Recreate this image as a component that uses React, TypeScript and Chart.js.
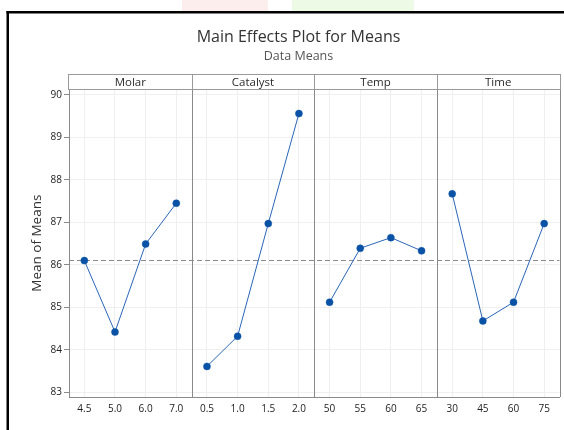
import React, { useEffect, useRef } from 'react';
import { Chart, registerables } from 'chart.js';

Chart.register(...registerables);

// ---- data ----
const factorNames = ['Molar', 'Catalyst', 'Temp', 'Time'];
const molarLevels = ['4.5', '5.0', '6.0', '7.0'];
const catalystLevels = ['0.5', '1.0', '1.5', '2.0'];
const tempLevels = ['50', '55', '60', '65'];
const timeLevels = ['30', '45', '60', '75'];
const molarMeans = [86.10, 84.42, 86.49, 87.45];
const catalystMeans = [83.61, 84.32, 86.97, 89.56];
const tempMeans = [85.12, 86.39, 86.64, 86.33];
const timeMeans = [87.67, 84.68, 85.12, 86.97];
const yTicks = [83, 84, 85, 86, 87, 88, 89, 90];
const yMin = 82.89;
const yMax = 90.13;

const levels = [molarLevels, catalystLevels, tempLevels, timeLevels];
const means = [molarMeans, catalystMeans, tempMeans, timeMeans];
const allMeans = ([] as number[]).concat(...means);
const grandMean = allMeans.reduce((a, b) => a + b, 0) / allMeans.length;

const FONT = '"Open Sans", "Noto Sans", "DejaVu Sans", sans-serif';

const panelsPlugin = {
  id: 'panels',
  beforeDraw(chart: any) {
    const ctx = chart.ctx;
    ctx.save();
    ctx.fillStyle = '#ffffff';
    ctx.fillRect(0, 0, chart.width, chart.height);
    // faint watermark blotches at top
    ctx.fillStyle = 'rgba(250, 205, 205, 0.35)';
    ctx.fillRect(182, 0, 86, 11);
    ctx.fillStyle = 'rgba(215, 245, 200, 0.45)';
    ctx.fillRect(292, 0, 122, 11);
    // black frame
    ctx.fillStyle = '#000000';
    ctx.fillRect(6.5, 11, chart.width, 2.5);
    ctx.fillRect(6.5, 11, 2.5, chart.height);
    ctx.restore();
  },
  beforeDatasetsDraw(chart: any) {
    const ctx = chart.ctx;
    const area = chart.chartArea;
    ctx.save();
    // panel dividers + outer border
    ctx.strokeStyle = '#8a8a8a';
    ctx.lineWidth = 1;
    ctx.beginPath();
    for (let i = 0; i < factorNames.length; i++) {
      const s = chart.scales['x' + i];
      const x = Math.round(s.right) + 0.5;
      ctx.moveTo(x, area.top);
      ctx.lineTo(x, area.bottom);
    }
    const ty = Math.round(area.top) + 0.5;
    ctx.moveTo(area.left, ty);
    ctx.lineTo(area.right, ty);
    ctx.stroke();
    // grand mean dashed line
    const y = chart.scales.y.getPixelForValue(grandMean);
    ctx.strokeStyle = '#8c8c8c';
    ctx.setLineDash([5, 3]);
    ctx.beginPath();
    ctx.moveTo(area.left, Math.round(y) + 0.5);
    ctx.lineTo(area.right, Math.round(y) + 0.5);
    ctx.stroke();
    ctx.restore();
  },
  afterDraw(chart: any) {
    const ctx = chart.ctx;
    const area = chart.chartArea;
    const top = 74.5;
    const bottom = Math.round(area.top) + 0.5;
    ctx.save();
    ctx.strokeStyle = '#9a9a9a';
    ctx.lineWidth = 1;
    ctx.font = `11.5px ${FONT}`;
    ctx.fillStyle = '#2b2b2b';
    ctx.textAlign = 'center';
    ctx.textBaseline = 'middle';
    for (let i = 0; i < factorNames.length; i++) {
      const s = chart.scales['x' + i];
      const l = i === 0 ? Math.round(s.left) - 0.5 : Math.round(s.left) + 0.5;
      const r = Math.round(s.right) + 0.5;
      ctx.strokeRect(l, top, r - l, bottom - top);
      ctx.fillText(factorNames[i], (s.left + s.right) / 2, (top + bottom) / 2 + 0.5);
    }
    ctx.restore();
  },
};

export default function App() {
  const canvasRef = useRef<HTMLCanvasElement | null>(null);

  useEffect(() => {
    if (!canvasRef.current) return;
    const xScales: any = {};
    levels.forEach((lv, i) => {
      xScales['x' + i] = {
        type: 'category',
        labels: lv,
        position: 'bottom',
        stack: 'panels',
        stackWeight: 1,
        offset: true,
        grid: { offset: false, color: '#efefef', drawTicks: false, lineWidth: 1 },
        border: { display: true, color: '#8a8a8a' },
        ticks: {
          color: '#222222',
          font: { family: FONT, size: 10 },
          padding: 6,
          maxRotation: 0,
          autoSkip: false,
        },
        afterFit: (s: any) => {
          s.height = 33;
          s.paddingLeft = 0;
          s.paddingRight = 0;
        },
      };
    });

    const chart = new Chart(canvasRef.current, {
      type: 'line',
      data: {
        datasets: means.map((m, i) => ({
          label: factorNames[i],
          data: m,
          xAxisID: 'x' + i,
          yAxisID: 'y',
          borderColor: '#2a66b8',
          borderWidth: 1,
          pointBackgroundColor: '#0a52a5',
          pointBorderColor: '#0a52a5',
          pointRadius: 3.5,
          pointBorderWidth: 0.5,
          tension: 0,
          fill: false,
        })),
      },
      options: {
        responsive: false,
        animation: false,
        devicePixelRatio: 1,
        layout: { padding: { left: 36, right: 3, top: 0, bottom: 0 } },
        scales: {
          ...xScales,
          y: {
            type: 'linear',
            position: 'left',
            min: yMin,
            max: yMax,
            afterBuildTicks: (s: any) => {
              s.ticks = yTicks.map((v) => ({ value: v }));
            },
            grid: { color: '#efefef', drawTicks: true, tickLength: 5, tickColor: '#8a8a8a' },
            border: { display: true, color: '#8a8a8a' },
            ticks: { color: '#222222', font: { family: FONT, size: 10 }, padding: 2 },
            title: {
              display: true,
              text: 'Mean of Means',
              color: '#333333',
              font: { family: FONT, size: 13.5 },
              padding: { top: -6.6, bottom: 0 },
            },
            afterFit: (s: any) => {
              s.width = 33;
              s.paddingTop = 0;
              s.paddingBottom = 0;
            },
          },
        },
        plugins: {
          legend: { display: false },
          tooltip: { enabled: false },
          title: {
            display: true,
            text: 'Main Effects Plot for Means',
            color: '#333333',
            font: { family: FONT, size: 16, weight: 'normal' },
            padding: { top: 28, bottom: 0 },
          },
          subtitle: {
            display: true,
            text: 'Data Means',
            color: '#555555',
            font: { family: FONT, size: 12.5, weight: 'normal' },
            padding: { top: 2, bottom: 25.1 },
          },
        },
      } as any,
      plugins: [panelsPlugin],
    });
    return () => chart.destroy();
  }, []);

  return (
    <div style={{ position: 'fixed', left: 0, top: 0, width: 564, height: 430, background: '#fff' }}>
      <canvas ref={canvasRef} width={564} height={430} style={{ width: 564, height: 430, display: 'block' }} />
    </div>
  );
}
